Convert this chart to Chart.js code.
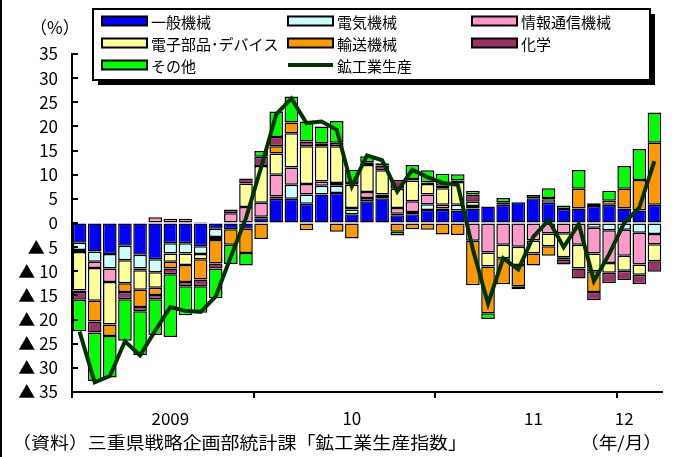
<!DOCTYPE html>
<html>
<head>
<meta charset="utf-8">
<script src="https://cdn.jsdelivr.net/npm/chart.js@4.4.0/dist/chart.umd.min.js"></script>
<style>
  html, body { margin: 0; padding: 0; background: #fff; }
  #wrap { width: 675px; height: 457px; }
</style>
</head>
<body>
<div id="wrap"><canvas id="myChart" width="675" height="457"></canvas></div>
<script>
// months Jan 2009 .. Mar 2012
const months = [
  '2009/1','2009/2','2009/3','2009/4','2009/5','2009/6','2009/7','2009/8','2009/9','2009/10','2009/11','2009/12',
  '2010/1','2010/2','2010/3','2010/4','2010/5','2010/6','2010/7','2010/8','2010/9','2010/10','2010/11','2010/12',
  '2011/1','2011/2','2011/3','2011/4','2011/5','2011/6','2011/7','2011/8','2011/9','2011/10','2011/11','2011/12',
  '2012/1','2012/2','2012/3'
];
const yearLabels = [
  '','','','','','','2009','','','','','',
  '','','','','','','10','','','','','',
  '','','','','','','11','','','','','',
  '12','',''
];

// contributions (%)
const ippanKikai = [-4.1,-5.9,-6.4,-4.7,-6.6,-7.5,-4.2,-4.2,-4.8,-1.2,-1.3,-1.2,
  1.0,5.0,5.0,4.0,5.9,6.2,1.8,4.5,5.1,1.6,1.8,2.7,
  2.7,2.6,3.0,3.4,3.8,4.3,5.1,4.2,2.9,3.0,3.5,3.8,
  3.0,2.6,3.8];
const denkiKikai = [-1.5,-2.1,-3.0,-3.0,-2.8,-2.7,-2.1,-2.1,-1.6,-1.7,0,0,
  0.3,0.5,2.9,1.9,1.8,1.5,1.0,0.7,0.5,0.3,0.5,1.2,
  0.3,1.2,0.5,0,0,0,0,0.7,0,0,-1.0,-1.5,
  -1.4,-2.0,-2.3];
const johoTsushin = [-0.4,-1.3,-2.8,0,-0.4,1.2,0.9,0.9,0.2,0,2.0,3.3,
  2.9,4.5,3.6,2.2,0.9,0.6,0.3,1.2,0.3,1.2,2.2,2.0,
  0.8,0,-3.7,-6.1,-4.5,-4.9,-3.6,-2.2,-2.1,-4.5,-5.3,-6.8,
  -5.4,-6.6,-2.1];
const denshiBuhin = [-8.0,-6.8,-8.8,-4.8,-4.0,-3.2,-1.7,-2.4,-1.1,-0.6,0,4.9,
  7.6,4.4,7.1,7.8,7.3,7.6,4.8,5.6,5.0,4.0,4.3,2.2,
  3.4,4.7,0.9,-2.9,-2.8,-3.8,-2.7,-2.6,-5.0,-4.9,-3.7,-2.0,
  -3.1,-2.1,-3.5];
const yusoKikai = [-0.3,-4.3,-2.4,-1.8,-3.6,-1.5,-1.4,-3.5,-4.2,-4.9,-3.2,-5.0,
  -3.3,1.5,2.2,-1.5,0,-1.8,-3.2,0,0,-1.8,-1.3,-1.4,
  -2.4,-2.5,-9.2,-9.7,-5.4,-4.4,-2.5,-2.0,-0.5,4.1,-4.3,0.8,
  4.1,6.3,12.8];
const kagaku = [-1.6,-2.3,0,-1.5,-0.9,-0.9,-1.2,-0.9,-1.4,-1.0,0.8,1.0,
  1.9,1.9,0,1.0,0.6,0.7,0.4,0.6,1.0,1.8,0.3,0.3,
  0.5,0.3,1.5,0,0.5,-0.6,0,0.3,-1.0,-2.1,-1.7,-2.2,
  -1.9,-2.0,-2.2];
const sonota = [-6.5,-10.0,-8.6,-8.6,-9.1,-7.4,-13.0,-6.0,-5.5,-6.2,-4.0,-2.6,
  1.2,5.3,5.4,4.1,3.5,4.5,2.7,1.2,0.5,-0.8,2.9,2.5,
  2.5,1.3,0.8,-1.2,0.9,0,0.7,2.0,0.7,3.9,0.6,2.1,
  4.7,6.4,6.3];
// mining and manufacturing production, y/y %
const kokogyo = [-22.5,-33.0,-31.7,-24.5,-27.4,-22.3,-17.4,-18.2,-18.4,-15.2,-7.0,1.0,
  11.5,22.5,25.8,20.7,21.0,19.3,7.6,14.0,13.0,6.5,11.0,9.5,
  8.3,7.9,-5.5,-16.7,-7.3,-9.6,-2.8,0.6,-5.0,-0.2,-12.0,-6.5,
  0.0,3.2,12.8];

const barSeries = [
  { label: '一般機械', data: ippanKikai, color: '#0000ff' },
  { label: '電気機械', data: denkiKikai, color: '#ccffff' },
  { label: '情報通信機械', data: johoTsushin, color: '#ff99cc' },
  { label: '電子部品･デバイス', data: denshiBuhin, color: '#ffff99' },
  { label: '輸送機械', data: yusoKikai, color: '#ff9900' },
  { label: '化学', data: kagaku, color: '#993366' },
  { label: 'その他', data: sonota, color: '#00ff00' }
];
const lineColor = '#003300';
const FONT = '"Noto Sans CJK JP", "Noto Sans", sans-serif';

const datasets = barSeries.map(s => ({
  type: 'bar',
  label: s.label,
  data: s.data.map(v => (v === 0 ? null : v)),
  backgroundColor: s.color,
  borderColor: '#000',
  borderWidth: 1.5,
  borderSkipped: false,
  barPercentage: 0.9,
  categoryPercentage: 1,
  stack: 'bars',
  order: 1
}));
datasets.push({
  type: 'line',
  label: '鉱工業生産',
  data: kokogyo,
  borderColor: lineColor,
  borderWidth: 4,
  pointRadius: 0,
  tension: 0,
  fill: false,
  stack: 'line',
  order: 0
});

// text squeezed/stretched to a given width
function fitText(ctx, str, x, y, w) {
  const sx = w / ctx.measureText(str).width;
  ctx.save();
  ctx.translate(x, y);
  ctx.scale(sx, 1);
  ctx.fillText(str, 0, 0);
  ctx.restore();
}

// extra drawing: inner y ticks, boxed legend, captions
const decor = {
  id: 'decor',
  afterDraw(chart) {
    const ctx = chart.ctx;
    const ya = chart.scales.y;
    const area = chart.chartArea;
    ctx.save();

    // left frame line
    ctx.fillStyle = '#000';
    ctx.fillRect(0, 0, 2, chart.height);

    // y ticks pointing into the plot
    ctx.strokeStyle = '#000';
    ctx.lineWidth = 2;
    ya.ticks.forEach(t => {
      const y = Math.round(ya.getPixelForValue(t.value));
      ctx.beginPath();
      ctx.moveTo(area.left, y);
      ctx.lineTo(area.left + 6, y);
      ctx.stroke();
    });

    // legend box with shadow
    const bx = 93, by = 9, bw = 557, bh = 71;
    ctx.fillStyle = '#000';
    ctx.fillRect(bx + 5, by + 5, bw, bh);
    ctx.fillStyle = '#fff';
    ctx.fillRect(bx, by, bw, bh);
    ctx.strokeStyle = '#000';
    ctx.lineWidth = 2;
    ctx.strokeRect(bx, by, bw, bh);

    const colX = [102, 288, 472];
    const rowY = [21, 43, 65];
    ctx.font = '15px ' + FONT;
    ctx.textBaseline = 'middle';
    ctx.textAlign = 'left';
    chart.data.datasets.forEach((ds, i) => {
      const x = colX[i % 3], y = rowY[Math.floor(i / 3)];
      if (ds.type === 'line') {
        ctx.strokeStyle = ds.borderColor;
        ctx.lineWidth = 4;
        ctx.beginPath();
        ctx.moveTo(x, y);
        ctx.lineTo(x + 45, y);
        ctx.stroke();
      } else {
        ctx.fillStyle = ds.backgroundColor;
        ctx.fillRect(x, y - 4.5, 45, 9);
        ctx.strokeStyle = '#000';
        ctx.lineWidth = 2;
        ctx.strokeRect(x, y - 4.5, 45, 9);
      }
      ctx.fillStyle = '#000';
      ctx.fillText(ds.label, x + 49, y + 1);
    });

    // captions
    ctx.font = '17px ' + FONT;
    ctx.fillText('（%）', 30, 28);
    fitText(ctx, '（資料）三重県戦略企画部統計課「鉱工業生産指数」', 12, 443, 455);
    fitText(ctx, '（年/月）', 580, 443, 82);
    ctx.restore();
  }
};

new Chart(document.getElementById('myChart').getContext('2d'), {
  data: { labels: months, datasets: datasets },
  options: {
    responsive: false,
    animation: false,
    devicePixelRatio: 1,
    layout: { padding: { top: 54, right: 13, bottom: 0, left: 0 } },
    plugins: { legend: { display: false }, tooltip: { enabled: false } },
    scales: {
      x: {
        stacked: true,
        offset: true,
        grid: {
          offset: true,
          drawOnChartArea: false,
          drawTicks: true,
          tickLength: 6,
          lineWidth: 2,
          color: c => (c.index % 12 === 0 ? '#000' : 'rgba(0,0,0,0)')
        },
        border: { display: true, color: '#000', width: 2 },
        ticks: {
          autoSkip: false,
          maxRotation: 0,
          padding: 10,
          color: '#000',
          font: { family: FONT, size: 17 },
          callback: (v, i) => yearLabels[i]
        },
        afterFit: s => { s.height = 65; }
      },
      y: {
        stacked: true,
        min: -35,
        max: 35,
        grid: { drawOnChartArea: false, drawTicks: false },
        border: { display: true, color: '#000', width: 2 },
        ticks: {
          stepSize: 5,
          padding: 14,
          color: '#000',
          font: { family: FONT, size: 17 },
          callback: v => (v < 0 ? '▲ ' + (-v) : String(v))
        },
        afterFit: s => { s.width = 72; }
      }
    }
  },
  plugins: [decor]
});
</script>
</body>
</html>
